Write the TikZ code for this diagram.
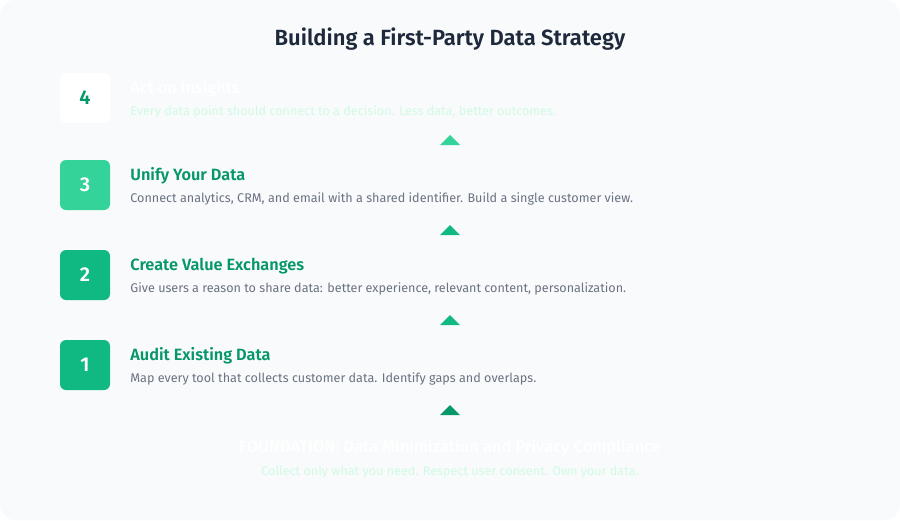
\documentclass[tikz,border=0pt]{standalone}
\usepackage{fontspec}
\setmainfont{Fira Sans}[BoldFont={Fira Sans SemiBold}]
\usetikzlibrary{calc, positioning}

\definecolor{pagebg}{HTML}{F8FAFC}
\definecolor{headink}{HTML}{1E293B}
\definecolor{deepgreen}{HTML}{059669}
\definecolor{midgreen}{HTML}{10B981}
\definecolor{lightgreen}{HTML}{34D399}
\definecolor{palegreen}{HTML}{D1FAE5}
\definecolor{descgray}{HTML}{6B7280}

\begin{document}
\begin{tikzpicture}[
  x=1pt, y=-1pt,
  numbox/.style={
    rectangle, rounded corners=6pt, inner sep=0pt,
    minimum width=50pt, minimum height=50pt,
    font=\fontsize{20}{24}\selectfont\bfseries
  },
  steptitle/.style={anchor=base west, inner sep=0pt, text=deepgreen,
    font=\fontsize{16.3}{19}\selectfont\bfseries},
  stepdesc/.style={anchor=base west, inner sep=0pt, text=descgray,
    font=\fontsize{12.6}{15}\selectfont}
]

% Background
\useasboundingbox (0,0) rectangle (900,520);
\fill[white] (0,0) rectangle (900,520);
\fill[pagebg, rounded corners=16pt] (0,0) rectangle (900,520);

% Title
\node[anchor=base, inner sep=0pt, text=headink,
  font=\fontsize{22}{26}\selectfont\bfseries] (Title) at (450,45)
  {Building a First-Party Data Strategy};

% Nodes
\node[numbox, fill=white, text=deepgreen] (Step_4) at (85,98) {4};
\node[numbox, fill=lightgreen, text=white] (Step_3) at (85,185) {3};
\node[numbox, fill=midgreen, text=white] (Step_2) at (85,275) {2};
\node[numbox, fill=midgreen, text=white] (Step_1) at (85,365) {1};

\node[steptitle, text=white] (Title_4) at ([xshift=20pt, yshift=-21pt]Step_4.north east) {Act on Insights};
\node[stepdesc, text=palegreen] (Desc_4) at ([yshift=-22pt]Title_4.base west)
  {Every data point should connect to a decision. Less data, better outcomes.};

\node[steptitle] (Title_3) at ([xshift=20pt, yshift=-21pt]Step_3.north east) {Unify Your Data};
\node[stepdesc] (Desc_3) at ([yshift=-22pt]Title_3.base west)
  {Connect analytics, CRM, and email with a shared identifier. Build a single customer view.};

\node[steptitle] (Title_2) at ([xshift=20pt, yshift=-21pt]Step_2.north east) {Create Value Exchanges};
\node[stepdesc] (Desc_2) at ([yshift=-22pt]Title_2.base west)
  {Give users a reason to share data: better experience, relevant content, personalization.};

\node[steptitle] (Title_1) at ([xshift=20pt, yshift=-21pt]Step_1.north east) {Audit Existing Data};
\node[stepdesc] (Desc_1) at ([yshift=-22pt]Title_1.base west)
  {Map every tool that collects customer data. Identify gaps and overlaps.};

\node[anchor=base, inner sep=0pt, text=white,
  font=\fontsize{16.5}{19}\selectfont\bfseries] (Base) at (450,452)
  {FOUNDATION: Data Minimization and Privacy Compliance};
\node[anchor=base, inner sep=0pt, text=palegreen,
  font=\fontsize{12.6}{15}\selectfont] (Base_desc) at (450,475)
  {Collect only what you need. Respect user consent. Own your data.};

% Edges
\foreach \ypos/\col in {140/lightgreen, 230/midgreen, 320/midgreen, 410/deepgreen}
  \fill[\col] (440,\ypos+5) -- (460,\ypos+5) -- (450,\ypos-5) -- cycle;

\end{tikzpicture}
\end{document}
